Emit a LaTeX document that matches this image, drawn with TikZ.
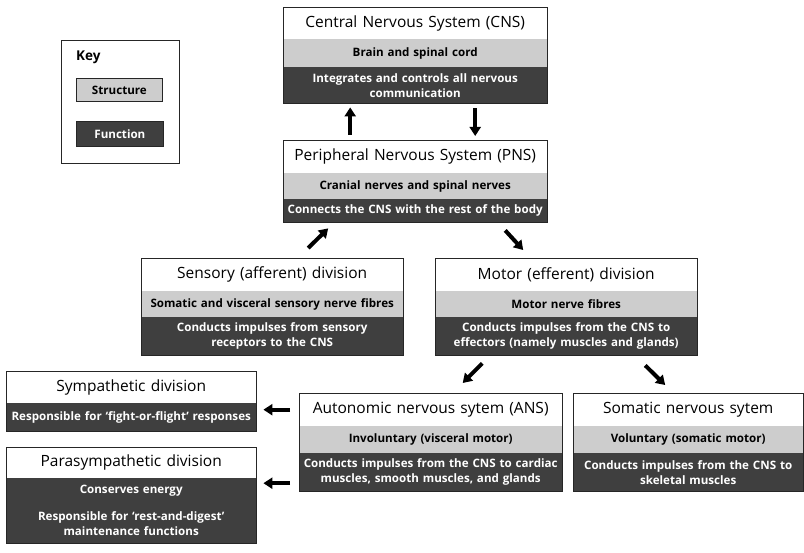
\documentclass[tikz,border=0pt]{standalone}
\usepackage{fontspec}
\setmainfont{Open Sans}
\usetikzlibrary{arrows.meta}
\definecolor{structgray}{HTML}{CDCDCD}
\definecolor{funcgray}{HTML}{3F3F3F}

\tikzset{
  band/.style={anchor=north west, inner xsep=1pt, inner ysep=0pt, align=center},
  titleband/.style={band, fill=white, font=\fontsize{15.5}{18}\selectfont},
  structband/.style={band, fill=structgray, font=\bfseries\fontsize{11.6}{15}\selectfont},
  funcband/.style={band, fill=funcgray, text=white, font=\bfseries\fontsize{11.6}{15}\selectfont},
  boxline/.style={draw=black!85, line width=0.8pt},
  blk/.style={line width=4pt, -{Triangle[length=9pt,width=11pt]}},
}

\begin{document}
\begin{tikzpicture}[x=1pt, y=-1pt]
    \useasboundingbox (0,0) rectangle (804,553);

    % Key
    \draw[boxline] (61,40) rectangle (179,163);
    \node[anchor=west, inner sep=0pt, font=\bfseries\fontsize{13.5}{15}\selectfont] (keyT) at (76,57) {Key};
    \node[structband, boxline, text width=84pt, minimum height=23pt] (keyS) at (76,78) {Structure};
    \node[funcband, boxline, text width=85pt, minimum height=25pt] (keyF) at (76,121) {Function};

    % CNS
    \node[titleband, text width=262pt, minimum height=32pt] (cnsT) at (283,7) {Central Nervous System (CNS)};
    \node[structband, text width=262pt, minimum height=28pt] (cnsS) at (283,39) {Brain and spinal cord};
    \node[funcband, text width=262pt, minimum height=36pt] (cnsF) at (283,67) {Integrates and controls all nervous\\communication};
    \draw[boxline] (cnsT.north west) rectangle (cnsF.south east);

    % PNS
    \node[titleband, text width=262pt, minimum height=33pt] (pnsT) at (283,140) {Peripheral Nervous System (PNS)};
    \node[structband, text width=262pt, minimum height=26pt] (pnsS) at (283,173) {Cranial nerves and spinal nerves};
    \node[funcband, text width=262pt, minimum height=23pt] (pnsF) at (283,199) {Connects the CNS with the rest of the body};
    \draw[boxline] (pnsT.north west) rectangle (pnsF.south east);

    % Sensory division
    \node[titleband, text width=260pt, minimum height=33pt] (sensT) at (141,258) {Sensory (afferent) division};
    \node[structband, text width=260pt, minimum height=26pt] (sensS) at (141,291) {Somatic and visceral sensory nerve fibres};
    \node[funcband, text width=260pt, minimum height=38pt] (sensF) at (141,317) {Conducts impulses from sensory\\receptors to the CNS};
    \draw[boxline] (sensT.north west) rectangle (sensF.south east);

    % Motor division
    \node[titleband, text width=260pt, minimum height=33pt] (motT) at (435,258) {Motor (efferent) division};
    \node[structband, text width=260pt, minimum height=26pt] (motS) at (435,291) {Motor nerve fibres};
    \node[funcband, text width=260pt, minimum height=38pt] (motF) at (435,317) {Conducts impulses from the CNS to\\effectors (namely muscles and glands)};
    \draw[boxline] (motT.north west) rectangle (motF.south east);

    % Sympathetic division
    \node[titleband, text width=248pt, minimum height=32pt] (sympT) at (6,371) {Sympathetic division};
    \node[funcband, text width=248pt, minimum height=28pt] (sympF) at (6,403) {Responsible for ‘fight-or-flight’ responses};
    \draw[boxline] (sympT.north west) rectangle (sympF.south east);

    % Parasympathetic division
    \node[titleband, text width=248pt, minimum height=31pt] (paraT) at (6,447) {Parasympathetic division};
    \node[funcband, text width=248pt, minimum height=65pt] (paraF) at (6,478) {Conserves energy\\[12pt]Responsible for ‘rest-and-digest’\\maintenance functions};
    \draw[boxline] (paraT.north west) rectangle (paraF.south east);

    % ANS
    \node[titleband, text width=261pt, minimum height=33pt] (ansT) at (299,393) {Autonomic nervous sytem (ANS)};
    \node[structband, text width=261pt, minimum height=27pt] (ansS) at (299,426) {Involuntary (visceral motor)};
    \node[funcband, text width=261pt, minimum height=38pt] (ansF) at (299,453) {Conducts impulses from the CNS to cardiac\\muscles, smooth muscles, and glands};
    \draw[boxline] (ansT.north west) rectangle (ansF.south east);

    % Somatic
    \node[titleband, text width=228pt, minimum height=33pt] (somT) at (573,393) {Somatic nervous sytem};
    \node[structband, text width=228pt, minimum height=27pt] (somS) at (573,426) {Voluntary (somatic motor)};
    \node[funcband, text width=228pt, minimum height=38pt] (somF) at (573,453) {Conducts impulses from the CNS to\\skeletal muscles};
    \draw[boxline] (somT.north west) rectangle (somF.south east);

    % Flechas
    \draw[blk, shorten <=5pt, shorten >=4pt] ([xshift=-65pt]pnsT.north) -- ([xshift=-65pt]cnsF.south);
    \draw[blk, shorten <=5pt, shorten >=4pt] ([xshift=60pt]cnsF.south) -- ([xshift=60pt]pnsT.north);
    \draw[blk] ([xshift=36pt,yshift=10pt]sensT.north) -- ([xshift=-87pt,yshift=-6pt]pnsF.south);
    \draw[blk] ([xshift=90pt,yshift=-8pt]pnsF.south) -- ([xshift=-43pt,yshift=8pt]motT.north);
    \draw[blk] ([xshift=-84pt,yshift=-8pt]motF.south) -- ([xshift=32pt,yshift=10pt]ansT.north);
    \draw[blk] ([xshift=79pt,yshift=-10pt]motF.south) -- ([xshift=-23pt,yshift=8pt]somT.north);
    \draw[blk, shorten <=9pt, shorten >=7pt] (ansT.west) -- (ansT.west -| sympF.east);
    \draw[blk, shorten <=9pt, shorten >=7pt] ([yshift=-11pt]ansF.west) -- ([yshift=-11pt]ansF.west -| paraF.east);
\end{tikzpicture}
\end{document}
